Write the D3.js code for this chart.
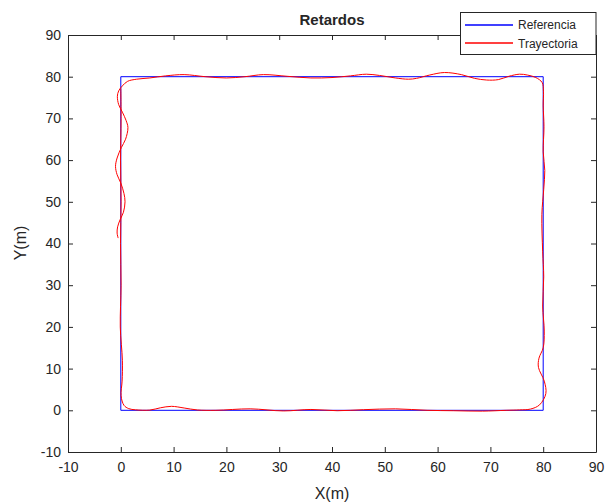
<!DOCTYPE html>
<html lang="es">
<head>
<meta charset="UTF-8">
<title>Retardos</title>
<script src="https://d3js.org/d3.v7.min.js"></script>
<style>
  body { margin: 0; background: #fff; }
  text { font-family: "Liberation Sans", Arial, sans-serif; fill: #262626; }
</style>
</head>
<body>
<svg width="605" height="504"></svg>
<script>
// referencia (cuadrado)
var refX = [0, 80, 80, 0, 0];
var refY = [0, 0, 80, 80, 0];

// trayectoria
var trayX = [0.0, 0.05, -0.05, 0.05, -0.05, 0.05, -0.1, 0.3, 0.25, 0.05, 0.6, 1.5, 2.8, 5.5, 7.5, 9.6, 12, 14.5, 18,
  24.5, 30.8, 36, 41, 46, 52, 58, 63, 68.5, 73, 75.5, 77.6, 79.3, 80.5, 80.2, 79.1, 79.2, 80, 80.2, 79.9, 80.1,
  79.9, 79.75, 80.1, 80.3, 80.0, 80.15, 80.0, 80.05, 79.8, 78.6, 77.0, 75.5, 73.5, 71.5, 69.3, 67, 64.5, 61.3,
  58.5, 56, 54.5, 52, 49, 46.5, 43.5, 40, 36, 31.5, 27, 23.5, 20, 16, 12, 8.5, 5.5, 3, 1.3, 0.3, -0.4, -0.65,
  -0.4, 0.3, 1.0, 1.35, 0.9, 0.1, -0.7, -1.0, -0.7, 0, 0.6, 0.8, 0.5, -0.1, -0.6, -0.7, -0.5];
var trayY = [77.2, 70, 60, 50, 40, 30, 20, 12, 7, 3.5, 1.2, 0.4, 0.12, 0.05, 0.6, 0.95, 0.55, 0.08, 0.0,
  0.35, -0.15, 0.2, -0.1, 0.15, 0.35, 0.0, -0.1, -0.2, 0.0, 0.1, 0.3, 1.3, 4.0, 7.0, 10.3, 12.5, 15, 19, 25, 32,
  38, 47, 53, 57.5, 62, 68, 73, 76.5, 78.6, 79.8, 80.4, 80.6, 80.1, 79.3, 79.2, 79.6, 80.5, 81.0,
  80.4, 79.6, 79.4, 79.7, 80.3, 80.6, 80.2, 79.8, 79.7, 80.1, 80.5, 80.0, 79.7, 80.0, 80.5, 80.2, 79.7, 79.4, 78.9, 77.8, 76.6, 75.3,
  73.3, 71.5, 69.5, 67.8, 65, 63, 60.5, 58.5, 56.5, 54.5, 52, 50, 47.5, 45.8, 44, 42.5, 41.3];

var xTicks = d3.range(-10, 91, 10);
var yTicks = d3.range(-10, 91, 10);

var svg = d3.select('svg');
var x = d3.scaleLinear().domain([-10, 90]).range([68, 596]);
var y = d3.scaleLinear().domain([-10, 90]).range([452, 35]);
var axisColor = '#262626';
var fmt = function (d) { return String(d); }; // guion normal como en MATLAB

function estilo(g) {
  g.select('.domain').attr('stroke', axisColor);
  g.selectAll('.tick line').attr('stroke', axisColor);
  g.selectAll('.tick text').attr('fill', axisColor).style('font-size', '14px')
    .style('font-family', '"Liberation Sans", Arial, sans-serif');
}

svg.append('g').attr('transform', 'translate(0,452)')
  .call(d3.axisBottom(x).tickValues(xTicks).tickFormat(fmt).tickSize(-5).tickSizeOuter(0).tickPadding(10)).call(estilo);
svg.append('g').attr('transform', 'translate(0,35)')
  .call(d3.axisTop(x).tickValues(xTicks).tickSize(-5).tickSizeOuter(0).tickFormat('')).call(estilo);
svg.append('g').attr('transform', 'translate(68,0)')
  .call(d3.axisLeft(y).tickValues(yTicks).tickFormat(fmt).tickSize(-5).tickSizeOuter(0).tickPadding(7)).call(estilo);
svg.append('g').attr('transform', 'translate(596,0)')
  .call(d3.axisRight(y).tickValues(yTicks).tickSize(-5).tickSizeOuter(0).tickFormat('')).call(estilo);

// lineas
var refLine = d3.line().x(function (d, i) { return x(refX[i]); }).y(function (d, i) { return y(refY[i]); });
svg.append('path').datum(refX).attr('d', refLine)
  .attr('fill', 'none').attr('stroke', '#0000ff').attr('stroke-width', 1);

var trayLine = d3.line().curve(d3.curveCatmullRom.alpha(0.5))
  .x(function (d, i) { return x(trayX[i]); }).y(function (d, i) { return y(trayY[i]); });
svg.append('path').datum(trayX).attr('d', trayLine)
  .attr('fill', 'none').attr('stroke', '#ff0000').attr('stroke-width', 1);

// titulo y etiquetas
svg.append('text').attr('x', 332).attr('y', 25).attr('text-anchor', 'middle')
  .style('font-size', '15px').style('font-weight', 'bold').text('Retardos');
svg.append('text').attr('x', 332).attr('y', 499).attr('text-anchor', 'middle')
  .style('font-size', '16px').text('X(m)');
svg.append('text').attr('transform', 'translate(26,243) rotate(-90)').attr('text-anchor', 'middle')
  .style('font-size', '16px').text('Y(m)');

// leyenda
var legend = svg.append('g');
legend.append('rect').attr('x', 460.5).attr('y', 12.5).attr('width', 135.5).attr('height', 42)
  .attr('fill', '#fff').attr('stroke', axisColor);
var nombres = ['Referencia', 'Trayectoria'];
var colores = ['#0000ff', '#ff0000'];
legend.selectAll('path.muestra').data(nombres).enter().append('path')
  .attr('class', 'muestra')
  .attr('d', function (d, i) { var yy = 25 + i * 18; return 'M465,' + yy + 'H513'; })
  .style('fill', 'none')
  .style('stroke', function (d, i) { return colores[i]; })
  .style('stroke-width', '1.3px');
legend.selectAll('text.nombre').data(nombres).enter().append('text')
  .attr('class', 'nombre')
  .attr('x', 518).attr('y', function (d, i) { return 29.3 + i * 18.5; })
  .style('font-size', '12px').text(function (d) { return d; });
</script>
</body>
</html>
